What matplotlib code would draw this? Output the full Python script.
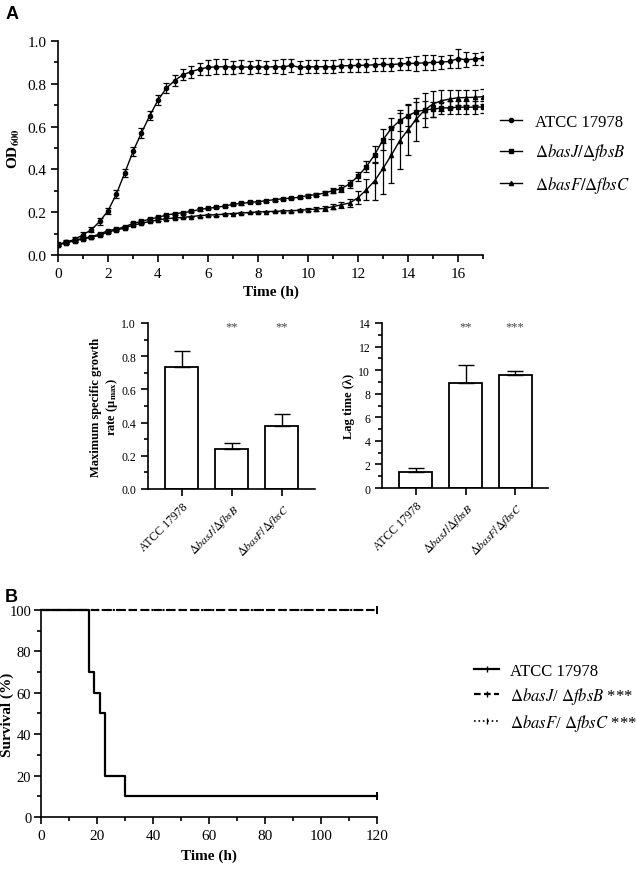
import numpy as np
import matplotlib.pyplot as plt
from matplotlib.ticker import MultipleLocator
from matplotlib.lines import Line2D

plt.rcParams['font.family'] = 'Liberation Serif'
plt.rcParams['mathtext.fontset'] = 'stix'

# --- growth curves (OD600 every 20 min) ---
hours = np.linspace(0, 17, 52)
od_atcc = [0.048, 0.060, 0.073, 0.095, 0.118, 0.157, 0.207, 0.285, 0.383, 0.484,
           0.570, 0.651, 0.724, 0.780, 0.815, 0.843, 0.857, 0.869, 0.877, 0.879,
           0.880, 0.878, 0.879, 0.878, 0.879, 0.878, 0.880, 0.879, 0.886, 0.877,
           0.879, 0.880, 0.880, 0.879, 0.884, 0.885, 0.886, 0.887, 0.889, 0.891,
           0.890, 0.893, 0.895, 0.896, 0.898, 0.900, 0.901, 0.905, 0.918, 0.912,
           0.916, 0.919]
err_atcc = [0.008, 0.008, 0.01, 0.012, 0.012, 0.015, 0.015, 0.018, 0.02, 0.02,
            0.022, 0.022, 0.025, 0.025, 0.025, 0.025, 0.028, 0.03, 0.035, 0.035,
            0.035, 0.03, 0.03, 0.03, 0.03, 0.03, 0.03, 0.035, 0.03, 0.03,
            0.03, 0.03, 0.03, 0.03, 0.03, 0.03, 0.03, 0.03, 0.03, 0.03,
            0.03, 0.03, 0.03, 0.035, 0.035, 0.035, 0.03, 0.03, 0.045, 0.035,
            0.03, 0.03]
od_basj = [0.050, 0.059, 0.070, 0.078, 0.086, 0.098, 0.114, 0.121, 0.132, 0.148,
           0.157, 0.168, 0.176, 0.187, 0.193, 0.198, 0.204, 0.213, 0.218, 0.223,
           0.229, 0.237, 0.241, 0.246, 0.249, 0.254, 0.259, 0.263, 0.266, 0.270,
           0.278, 0.282, 0.290, 0.301, 0.310, 0.333, 0.368, 0.413, 0.469, 0.539,
           0.592, 0.628, 0.651, 0.670, 0.678, 0.682, 0.687, 0.688, 0.691, 0.691,
           0.691, 0.692]
err_basj = [0.005] * 30 + [0.008, 0.008, 0.01, 0.012, 0.015, 0.018, 0.02, 0.025,
                           0.04, 0.05, 0.05, 0.05, 0.05, 0.045, 0.04, 0.035,
                           0.03, 0.03, 0.03, 0.03, 0.03, 0.03]
od_basf = [0.048, 0.057, 0.067, 0.075, 0.083, 0.092, 0.108, 0.117, 0.126, 0.140,
           0.148, 0.157, 0.164, 0.170, 0.173, 0.176, 0.180, 0.184, 0.187, 0.188,
           0.191, 0.194, 0.196, 0.199, 0.201, 0.203, 0.204, 0.206, 0.207, 0.209,
           0.212, 0.215, 0.218, 0.226, 0.235, 0.243, 0.268, 0.305, 0.347, 0.405,
           0.467, 0.534, 0.586, 0.635, 0.678, 0.706, 0.721, 0.729, 0.735, 0.736,
           0.737, 0.740]
err_basf = [0.004] * 30 + [0.006, 0.008, 0.01, 0.012, 0.015, 0.02, 0.03, 0.05,
                           0.09, 0.12, 0.13, 0.13, 0.12, 0.10, 0.08, 0.06,
                           0.05, 0.04, 0.035, 0.035, 0.035, 0.035]

# --- growth parameters ---
strains = ['ATCC 17978', r'$\Delta\mathit{basJ}/\Delta\mathit{fbsB}$',
           r'$\Delta\mathit{basF}/\Delta\mathit{fbsC}$']
mu_max = [0.735, 0.24, 0.38]
mu_err = [0.095, 0.04, 0.07]
mu_sig = ['', '**', '**']
lag = [1.35, 8.9, 9.6]
lag_err = [0.35, 1.5, 0.3]
lag_sig = ['', '**', '***']

# --- survival ---
surv_time = [0, 17, 19, 21, 23, 30, 120]
surv_atcc = [100, 70, 60, 50, 20, 10, 10]
surv_basj_time = [0, 120]
surv_basj = [100, 100]
surv_basf_time = [0, 120]
surv_basf = [100, 100]


def style_axes(ax, lw=1.2):
    for s in ['top', 'right']:
        ax.spines[s].set_visible(False)
    for s in ['left', 'bottom']:
        ax.spines[s].set_linewidth(lw)
    ax.tick_params(which='major', direction='out', length=5, width=lw)
    ax.tick_params(which='minor', direction='out', length=3, width=lw)


fig = plt.figure(figsize=(6.37, 8.7), dpi=100)

# panel A - growth curves
ax = fig.add_axes([0.0911, 0.7057, 0.6672, 0.246])
ax.errorbar(hours, od_atcc, yerr=err_atcc, fmt='-o', color='black', ms=3,
            lw=1, elinewidth=0.9, capsize=2.2, capthick=0.9)
ax.errorbar(hours, od_basj, yerr=err_basj, fmt='-s', color='black', ms=3.2,
            lw=1, elinewidth=0.9, capsize=2.2, capthick=0.9)
ax.errorbar(hours, od_basf, yerr=err_basf, fmt='-^', color='black', ms=3,
            lw=1, elinewidth=0.9, capsize=2.2, capthick=0.9)
ax.set_xlim(0, 17)
ax.set_ylim(0, 1.0)
ax.xaxis.set_major_locator(MultipleLocator(2))
ax.xaxis.set_minor_locator(MultipleLocator(1))
ax.yaxis.set_major_locator(MultipleLocator(0.2))
ax.yaxis.set_minor_locator(MultipleLocator(0.1))
ax.yaxis.set_major_formatter(plt.FormatStrFormatter('%.1f'))
style_axes(ax)
ax.tick_params(labelsize=11)
ax.set_xlabel('Time (h)', fontsize=11, fontweight='bold')
ax.xaxis.set_label_coords(0.5, -0.14)
ax.set_ylabel(r'OD$_{\mathbf{600}}$', fontsize=11, fontweight='bold')
ax.yaxis.set_label_coords(-0.085, 0.5)
handles = [Line2D([], [], color='black', lw=1, marker='o', ms=3),
           Line2D([], [], color='black', lw=1, marker='s', ms=3.2),
           Line2D([], [], color='black', lw=1, marker='^', ms=3)]
ax.legend(handles, strains, loc='center left', bbox_to_anchor=(1.04, 0.47),
          frameon=False, fontsize=12, handlelength=1.3, handletextpad=0.8,
          labelspacing=0.7, borderpad=0, borderaxespad=0)

# bar charts
bar_x = np.arange(len(strains))
for pos, vals, errs, sig, ylim, major, minor, ylabel, lx in [
        ([0.2323, 0.4368, 0.2622, 0.1908], mu_max, mu_err, mu_sig, 1.0, 0.2, 0.1,
         'Maximum specific growth\nrate (μ$_{\\mathbf{max}}$)', -0.17),
        ([0.5997, 0.4379, 0.2606, 0.1897], lag, lag_err, lag_sig, 14, 2, 1,
         'Lag time (λ)', -0.16)]:
    bx = fig.add_axes(pos)
    bx.bar(bar_x, vals, width=0.66, color='white', edgecolor='black', lw=1.3)
    bx.errorbar(bar_x, vals, yerr=[[0] * len(errs), errs], fmt='none',
                ecolor='black', elinewidth=1, capsize=5.5, capthick=1)
    for xi, s in zip(bar_x, sig):
        bx.text(xi, ylim * 0.98, s, ha='center', va='center', fontsize=9,
                color='#444444')
    bx.set_xlim(-0.68, 2.66)
    bx.set_ylim(0, ylim)
    bx.yaxis.set_major_locator(MultipleLocator(major))
    bx.yaxis.set_minor_locator(MultipleLocator(minor))
    if ylim == 1.0:
        bx.yaxis.set_major_formatter(plt.FormatStrFormatter('%.1f'))
    bx.set_xticks(bar_x)
    bx.set_xticklabels(strains, rotation=45, ha='right', rotation_mode='anchor')
    style_axes(bx)
    bx.tick_params(labelsize=8.5)
    bx.set_ylabel(ylabel, fontsize=9, fontweight='bold', linespacing=1.1)
    bx.yaxis.set_label_coords(lx, 0.5)

# panel B - survival
ax = fig.add_axes([0.0644, 0.0598, 0.5275, 0.2379])
ax.plot(surv_basf_time, surv_basf, color='black', lw=1.5, ls=':', clip_on=False)
ax.plot(surv_basj_time, surv_basj, color='black', lw=1.5, ls='--',
        dashes=(4, 2), clip_on=False)
ax.plot(surv_time, surv_atcc, color='black', lw=1.6, drawstyle='steps-post',
        clip_on=False)
ax.plot([surv_time[-1]], [surv_atcc[-1]], marker='|', ms=6, mew=1.4,
        color='black', clip_on=False)
ax.plot([surv_basj_time[-1]], [surv_basj[-1]], marker='|', ms=6, mew=1.4,
        color='black', clip_on=False)
ax.set_xlim(0, 120)
ax.set_ylim(0, 100)
ax.xaxis.set_major_locator(MultipleLocator(20))
ax.xaxis.set_minor_locator(MultipleLocator(10))
ax.yaxis.set_major_locator(MultipleLocator(20))
ax.yaxis.set_minor_locator(MultipleLocator(10))
style_axes(ax)
ax.tick_params(labelsize=11)
ax.tick_params(axis='y', pad=2, labelsize=10.5)
ax.set_xlabel('Time (h)', fontsize=11, fontweight='bold')
ax.xaxis.set_label_coords(0.5, -0.15)
ax.set_ylabel('Survival (%)', fontsize=11, fontweight='bold')
ax.yaxis.set_label_coords(-0.08, 0.5)
surv_labels = ['ATCC 17978',
               r'$\Delta\mathit{basJ}$/ $\Delta\mathit{fbsB}$ ***',
               r'$\Delta\mathit{basF}$/ $\Delta\mathit{fbsC}$ ***']
handles = [Line2D([], [], color='black', lw=1.6, marker='|', ms=5),
           Line2D([], [], color='black', lw=1.6, ls='--', dashes=(3, 1.5),
                  marker='|', ms=5),
           Line2D([], [], color='black', lw=1.2, ls=':', marker='|', ms=5)]
ax.legend(handles, surv_labels, loc='center left', bbox_to_anchor=(1.29, 0.575),
          frameon=False, fontsize=12, handlelength=1.45, handletextpad=0.66,
          labelspacing=0.38, borderpad=0, borderaxespad=0)

fig.text(0.008, 0.983, 'A', fontfamily='Liberation Sans', fontweight='bold',
         fontsize=13, va='center')
fig.text(0.008, 0.313, 'B', fontfamily='Liberation Sans', fontweight='bold',
         fontsize=13, va='center')

fig.savefig('out.png', dpi=100)
